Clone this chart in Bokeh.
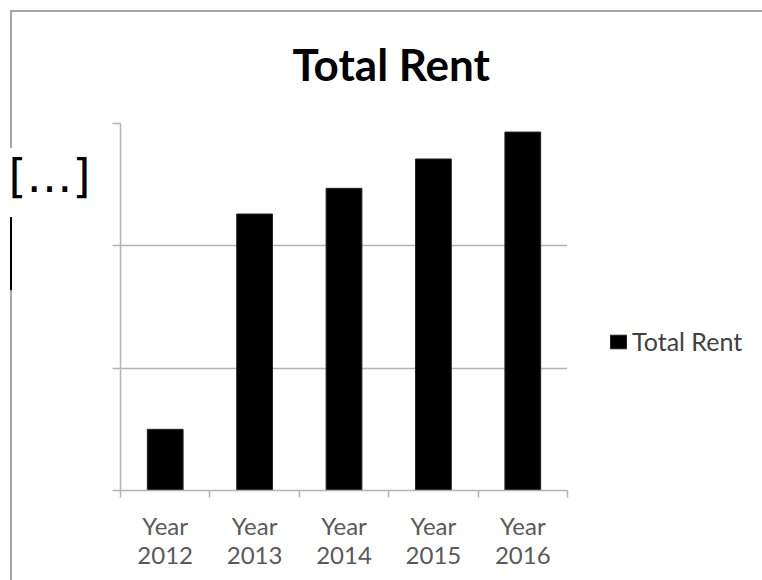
from bokeh.plotting import figure
from bokeh.models import (Range1d, FixedTicker, LinearAxis, Legend, LegendItem,
                          ColumnDataSource)
from bokeh.embed import file_html
from bokeh.resources import INLINE

# ---- data ----
years = ["2012", "2013", "2014", "2015", "2016"]
tick_labels = ["Year\n2012", "Year\n2013", "Year\n2014", "Year\n2015", "Year\n2016"]
rent = [5000, 22600, 24700, 27100, 29300]
y_ticks = [0, 10000, 20000, 30000]
title_text = "Total Rent"
legend_text = "Total Rent"
placeholder = "[…]"

# ---- geometry (figure pixels) ----
W, H = 762, 580
FL, FT = 120, 123          # frame left / top
FW, FH = 447, 367          # frame width / height
XMAX, YMAX = len(years), y_ticks[-1]

def px_y(py):   # figure px (from top) -> data y
    return (FT + FH - py) * YMAX / FH

centers = [i + 0.5 for i in range(len(years))]
bounds = list(range(len(years) + 1))
src = ColumnDataSource(dict(x=centers, rent=rent, year=years))

BORDER = "#a6a6a6"
p = figure(frame_width=FW, frame_height=FH,
           x_range=Range1d(0, XMAX), y_range=Range1d(0, YMAX),
           output_backend="svg", toolbar_location=None,
           min_border_left=FL, min_border_top=FT,
           min_border_right=W - FL - FW, min_border_bottom=H - FT - FH,
           outline_line_color=None, background_fill_color="white",
           border_fill_alpha=0)
p.styles = {
    "background-color": "white",
    "background-image": ", ".join([f"linear-gradient({c},{c})" for c in
                                   [BORDER, BORDER, "#000000", BORDER]]),
    "background-size": "752px 2px, 2px 138px, 2px 73px, 2px 290px",
    "background-position": "10px 10px, 10px 10px, 10px 217px, 10px 290px",
    "background-repeat": "no-repeat",
}

r = p.vbar(x="x", top="rent", width=0.4, source=src,
           fill_color="black", line_color="#222222", line_width=1)

GRAY = "#b3b3b3"

# title
p.title.text = title_text
p.title.align = "left"
p.title.offset = 172
p.title.standoff = 68
p.title.text_font = "Lato"
p.title.text_font_style = "bold"
p.title.text_font_size = "44px"
p.title.text_color = "black"

# x axis: labels at centers, tick marks at category boundaries
xa = p.xaxis[0]
xa.ticker = FixedTicker(ticks=centers, minor_ticks=bounds)
xa.major_label_overrides = {c: t for c, t in zip(centers, tick_labels)}
xa.major_tick_out = 0
xa.major_tick_in = 0
xa.minor_tick_out = 7
xa.minor_tick_in = 0
xa.minor_tick_line_color = GRAY
xa.minor_tick_line_width = 1.5
xa.axis_line_color = GRAY
xa.axis_line_width = 1.5
xa.major_label_text_font = "Lato"
xa.major_label_text_font_size = "24px"
xa.major_label_text_line_height = 1.0
xa.major_label_text_color = "#595959"
xa.major_label_standoff = 13

ya = p.yaxis[0]
ya.ticker = FixedTicker(ticks=y_ticks, minor_ticks=[])
ya.major_label_overrides = {t: "" for t in y_ticks}
ya.major_label_standoff = 0
ya.major_tick_out = 8
ya.major_tick_in = 0
ya.major_tick_line_color = GRAY
ya.major_tick_line_width = 1.5
ya.axis_line_color = GRAY
ya.axis_line_width = 1.5

# placeholder text where the y tick labels were
ph_pos = px_y(175)
pa = LinearAxis(ticker=FixedTicker(ticks=[ph_pos], minor_ticks=[]),
                major_label_overrides={ph_pos: placeholder},
                axis_line_color=None, major_tick_line_color=None,
                major_tick_out=0, major_tick_in=0,
                major_label_text_font="DejaVu Sans",
                major_label_text_font_size="46px",
                major_label_text_color="black",
                major_label_standoff=22)
p.add_layout(pa, "left")

p.xgrid.visible = False
p.ygrid.ticker = FixedTicker(ticks=y_ticks)
p.ygrid.grid_line_color = GRAY
p.ygrid.grid_line_width = 1.5

legend = Legend(items=[LegendItem(label=legend_text, renderers=[r])],
                location=(41, 134), glyph_width=20, glyph_height=17,
                label_text_font="Lato", label_text_font_size="25px",
                label_text_color="#404040", border_line_color=None,
                background_fill_alpha=0, padding=0, margin=0,
                label_standoff=4, spacing=0)
p.add_layout(legend, "right")

open("out.html", "w").write(file_html(p, INLINE))
